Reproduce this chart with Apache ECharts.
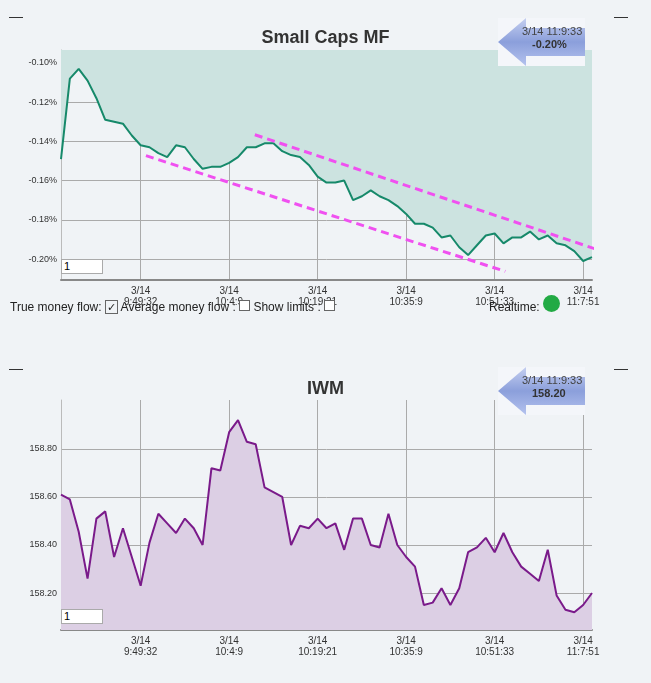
<!DOCTYPE html>
<html>
<head>
<meta charset="utf-8">
<title>Small Caps MF</title>
<script src="https://cdn.jsdelivr.net/npm/echarts@6/dist/echarts.min.js"></script>
<style>
body{margin:0;background:#f0f3f6;font-family:Arial,"Liberation Sans",sans-serif;}
.box{position:absolute;width:38px;height:13px;border:1px solid #aaa;background:#fff;font-size:11px;line-height:13px;padding-left:2px;}
.dash{position:absolute;font-size:14px;color:#333;}
</style>
</head>
<body>
<div id="chart" style="position:absolute;left:0;top:0;width:651px;height:683px"></div>
<div class="dash" style="left:9px;top:8px">—</div>
<div class="dash" style="left:614px;top:8px">—</div>
<div class="dash" style="left:9px;top:360px">—</div>
<div class="dash" style="left:614px;top:360px">—</div>
<div class="box" style="left:61px;top:259px">1</div>
<div class="box" style="left:61px;top:609px">1</div>
<div style="position:absolute;left:10px;top:300px;font-size:12px;color:#222">True money flow: <span style="font-size:11px;border:1px solid #666;padding:0 1px">✓</span> Average money flow : <span style="display:inline-block;width:9px;height:9px;border:1px solid #666;background:#fff"></span> Show limits : <span style="display:inline-block;width:9px;height:9px;border:1px solid #666;background:#fff"></span></div>
<div style="position:absolute;left:489px;top:300px;font-size:12px;color:#222">Realtime:</div>
<div style="position:absolute;left:543px;top:295px;width:17px;height:17px;border-radius:50%;background:#22aa44"></div>
<script type="text/javascript">
// x axis ticks
var tickIdx = [9, 19, 29, 39, 49, 59];
var tickLabels = ['3/14\n9:49:32', '3/14\n10:4:9', '3/14\n10:19:21', '3/14\n10:35:9', '3/14\n10:51:33', '3/14\n11:7:51'];

// Small Caps MF (%)
var mfValues = [-0.149,-0.108,-0.103,-0.109,-0.118,-0.129,-0.130,-0.131,-0.137,-0.142,
  -0.143,-0.146,-0.148,-0.142,-0.143,-0.149,-0.154,-0.153,-0.153,-0.151,
  -0.148,-0.143,-0.143,-0.141,-0.141,-0.145,-0.147,-0.148,-0.152,-0.158,
  -0.161,-0.161,-0.160,-0.170,-0.168,-0.165,-0.168,-0.170,-0.173,-0.177,
  -0.182,-0.182,-0.184,-0.189,-0.188,-0.194,-0.198,-0.193,-0.188,-0.187,
  -0.192,-0.189,-0.189,-0.186,-0.190,-0.188,-0.192,-0.193,-0.196,-0.201,-0.199];
var mfTicks = [-0.20, -0.18, -0.16, -0.14, -0.12, -0.10];
// trend lines [index, value]
var upperTrend = [[21.9, -0.1366], [61.4, -0.1964]];
var lowerTrend = [[9.6, -0.1473], [50.2, -0.2063]];

// IWM price
var iwmValues = [158.61,158.59,158.455,158.26,158.51,158.54,158.35,158.47,158.35,158.23,
  158.41,158.53,158.49,158.45,158.51,158.47,158.40,158.72,158.71,158.87,
  158.92,158.83,158.82,158.64,158.62,158.60,158.40,158.48,158.47,158.51,
  158.47,158.49,158.38,158.51,158.51,158.40,158.39,158.53,158.40,158.35,
  158.31,158.15,158.16,158.22,158.15,158.22,158.37,158.39,158.43,158.37,
  158.45,158.37,158.31,158.28,158.25,158.38,158.19,158.13,158.12,158.15,158.20];
var iwmTicks = [158.20, 158.40, 158.60, 158.80];

var cats = mfValues.map(function (v, i) {
  var k = tickIdx.indexOf(i);
  return k >= 0 ? tickLabels[k] : '';
});
function isTick(i) { return tickIdx.indexOf(i) >= 0; }

function xAx(gi) {
  return {
    type: 'category', gridIndex: gi, data: cats, boundaryGap: false,
    axisLine: { lineStyle: { color: '#888', width: 2 } },
    axisTick: { show: false },
    axisLabel: { interval: function (i) { return isTick(i); }, fontSize: 10, color: '#333', lineHeight: 11, margin: 6 },
    splitLine: { show: true, interval: function (i) { return isTick(i); }, lineStyle: { color: '#aaa' } }
  };
}
function yAx(gi, min, max, ticks, fmt) {
  return {
    type: 'value', gridIndex: gi, min: min, max: max,
    axisLine: { show: true, lineStyle: { color: '#bbb' } },
    axisTick: { show: false, customValues: ticks },
    axisLabel: { customValues: ticks, formatter: fmt, fontSize: 9, color: '#333', margin: 4 },
    splitLine: { show: true, lineStyle: { color: '#aaa' } }
  };
}
function hiddenX(gi) {
  return { type: 'value', gridIndex: gi, min: 0, max: 60, show: false };
}

function badge(y, line1, line2) {
  return [{
    type: 'rect', left: 498, top: y, z: 100,
    shape: { width: 87, height: 48 },
    style: { fill: '#f4f6fa' }
  }, {
    type: 'polygon', left: 498, top: y, z: 101,
    shape: { points: [[0, 24], [28, 0], [28, 10], [87, 10], [87, 38], [28, 38], [28, 48]] },
    style: { fill: new echarts.graphic.LinearGradient(0, 0, 0, 1, [{ offset: 0, color: '#c5cff0' }, { offset: 0.5, color: '#8b9fdb' }, { offset: 1, color: '#b4c2ee' }]) }
  }, {
    type: 'text', left: 522, top: y + 8, z: 102,
    style: { text: line1, fontSize: 11, fill: '#444', fontFamily: 'Arial' }
  }, {
    type: 'text', left: line2.length > 5 ? 532 : 530, top: y + 21, z: 102,
    style: { text: line2, fontSize: 11, fontWeight: 'bold', fill: '#333', fontFamily: 'Arial' }
  }];
}

var myChart = echarts.init(document.getElementById('chart'));
myChart.setOption({
  backgroundColor: '#f0f3f6',
  animation: false,
  title: [
    { text: 'Small Caps MF', left: 'center', top: 24, textStyle: { fontSize: 18, fontWeight: 'bold', color: '#333', fontFamily: 'Arial' } },
    { text: 'IWM', left: 'center', top: 375, textStyle: { fontSize: 18, fontWeight: 'bold', color: '#333', fontFamily: 'Arial' } }
  ],
  grid: [
    { left: 61, right: 59, top: 50, height: 230 },
    { left: 61, right: 59, top: 400, height: 230 }
  ],
  xAxis: [xAx(0), xAx(1), hiddenX(0)],
  yAxis: [
    yAx(0, -0.2107, -0.0934, mfTicks, function (v) { return v.toFixed(2) + '%'; }),
    yAx(1, 158.046, 159.004, iwmTicks, function (v) { return v.toFixed(2); })
  ],
  series: [
    { type: 'line', xAxisIndex: 0, yAxisIndex: 0, data: mfValues, symbol: 'none',
      lineStyle: { color: '#16896a', width: 2 }, areaStyle: { color: '#cce3e0', opacity: 1, origin: 'end' } },
    { type: 'line', xAxisIndex: 2, yAxisIndex: 0, data: upperTrend, symbol: 'none', clip: false,
      lineStyle: { color: '#f050f0', width: 3, type: [8, 5] } },
    { type: 'line', xAxisIndex: 2, yAxisIndex: 0, data: lowerTrend, symbol: 'none', clip: false,
      lineStyle: { color: '#f050f0', width: 3, type: [8, 5] } },
    { type: 'line', xAxisIndex: 1, yAxisIndex: 1, data: iwmValues, symbol: 'none',
      lineStyle: { color: '#7a1a8a', width: 2 }, areaStyle: { color: '#dccfe4', opacity: 1 } }
  ],
  graphic: badge(18, '3/14 11:9:33', '-0.20%').concat(badge(367, '3/14 11:9:33', '158.20'))
});
</script>
</body>
</html>
